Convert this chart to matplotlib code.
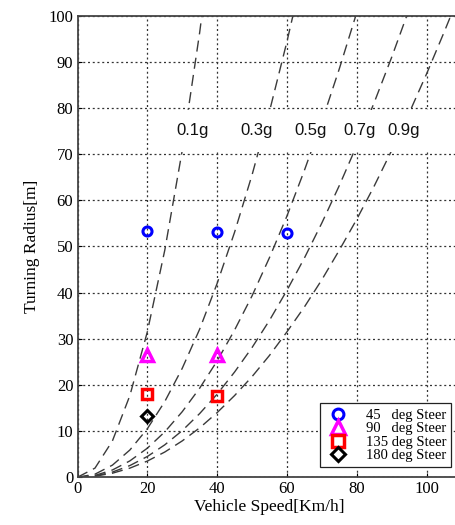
import matplotlib
matplotlib.use('Agg')
from matplotlib import pyplot as plt
from matplotlib.ticker import MultipleLocator

# speed axis shared by the g-curves [km/h]
speed_kmh = [0, 5, 10, 15, 20, 25, 30, 35, 40, 45, 50, 55, 60, 65, 70, 75,
             80, 85, 90, 95, 100, 105, 110]

# turning radius [m]
radius_01g = [0, 1.97, 7.87, 17.7, 31.5, 49.2, 70.8, 96.4, 125.9]
radius_03g = [0, 0.66, 2.62, 5.90, 10.5, 16.4, 23.6, 32.1, 42.0, 53.1, 65.5,
              79.3, 94.4, 110.8]
radius_05g = [0, 0.39, 1.57, 3.54, 6.29, 9.83, 14.2, 19.3, 25.2, 31.9, 39.3,
              47.6, 56.6, 66.5, 77.1, 88.5, 100.7]
radius_07g = [0, 0.28, 1.12, 2.53, 4.49, 7.02, 10.1, 13.8, 18.0, 22.8, 28.1,
              34.0, 40.5, 47.5, 55.1, 63.2, 71.9, 81.2, 91.0, 101.4]
radius_09g = [0, 0.22, 0.87, 1.97, 3.50, 5.46, 7.87, 10.7, 14.0, 17.7, 21.8,
              26.4, 31.5, 36.9, 42.8, 49.2, 55.9, 63.1, 70.8, 78.9, 87.4,
              96.4, 105.7]

g_labels = ['0.1g', '0.3g', '0.5g', '0.7g', '0.9g']
g_label_x = [33.1, 51.3, 66.8, 80.9, 93.5]
g_label_y = 75.2

# measured points per steering angle
steer_45_speed = [20, 40, 60]
steer_45_radius = [53.3, 53.2, 52.9]
steer_90_speed = [20, 40]
steer_90_radius = [26.5, 26.5]
steer_135_speed = [20, 40]
steer_135_radius = [18.0, 17.7]
steer_180_speed = [20]
steer_180_radius = [13.3]

serif = 'Liberation Serif'

fig = plt.figure(figsize=(4.56, 5.25), dpi=100)
ax = fig.add_axes([0.170, 0.091, 0.842, 0.879])
ax.set_axisbelow(True)

for r in [radius_01g, radius_03g, radius_05g, radius_07g, radius_09g]:
    ax.plot(speed_kmh[:len(r)], r, color='#3a3a3a', lw=1.0,
            linestyle=(0, (8, 4.5)), zorder=2)

# white strip behind the g labels
ax.fill_between([20.6, 112], 70.4, 79.6, color='white', lw=0, zorder=2.5)
for lab, x in zip(g_labels, g_label_x):
    ax.text(x, g_label_y, lab, ha='center', va='center', fontsize=12,
            family='Liberation Sans', color='#111111', zorder=3)

ax.plot(steer_45_speed, steer_45_radius, 'o', ms=6.5, mfc='none', mec='#0000ff',
        mew=2.2, zorder=4, label='45   deg Steer')
ax.plot(steer_90_speed, steer_90_radius, '^', ms=8.5, mfc='none', mec='#ff00ff',
        mew=2.5, zorder=4, label='90   deg Steer')
ax.plot(steer_135_speed, steer_135_radius, 's', ms=7, mfc='none', mec='#ff0000',
        mew=2.5, zorder=4, label='135 deg Steer')
ax.plot(steer_180_speed, steer_180_radius, 'D', ms=6, mfc='none', mec='black',
        mew=2.2, zorder=4, label='180 deg Steer')

ax.set_xlim(0, 110)
ax.set_ylim(0, 100)
ax.xaxis.set_major_locator(MultipleLocator(20))
ax.yaxis.set_major_locator(MultipleLocator(10))
ax.grid(True, color='#333333', lw=0.9, linestyle=(0, (1.6, 2.2)))
ax.tick_params(direction='in', length=3, labelsize=12, pad=3)
for lbl in ax.get_xticklabels() + ax.get_yticklabels():
    lbl.set_family(serif)
for s in ax.spines.values():
    s.set_color('#444444')
    s.set_linewidth(1.3)

ax.set_xlabel('Vehicle Speed[Km/h]', family=serif, fontsize=12.5, labelpad=1)
ax.set_ylabel('Turning Radius[m]', family=serif, fontsize=12.5, labelpad=6)

leg = ax.legend(loc='lower left', bbox_to_anchor=(0.701, 0.110),
                bbox_transform=fig.transFigure, fancybox=False,
                prop={'family': serif, 'size': 10.5}, handlelength=1.8,
                handletextpad=1.0, labelspacing=0.02, borderpad=0.35,
                borderaxespad=0, markerscale=1.2, framealpha=1)
leg.get_frame().set_edgecolor('#222222')
leg.get_frame().set_linewidth(0.9)
leg.set_zorder(5)

plt.savefig('out.png', dpi=100)
